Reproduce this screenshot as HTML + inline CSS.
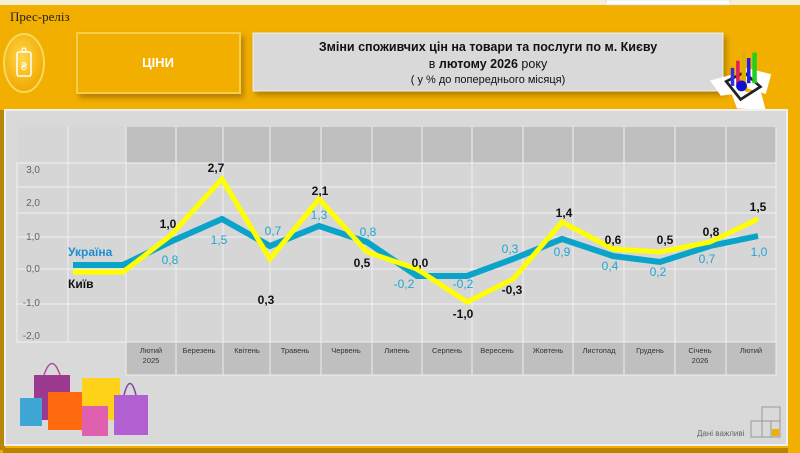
<!DOCTYPE html>
<html><head><meta charset="utf-8"><style>
html,body{margin:0;padding:0;width:800px;height:453px;overflow:hidden;background:#f2af00}
svg{display:block}
text{font-family:"Liberation Sans","DejaVu Sans",sans-serif}
</style></head><body>
<svg width="800" height="453" viewBox="0 0 800 453" xmlns="http://www.w3.org/2000/svg">
<defs>
<radialGradient id="cg" cx="45%" cy="40%" r="60%"><stop offset="0" stop-color="#ffd84a"/><stop offset="1" stop-color="#f0a800"/></radialGradient>
<filter id="sh" x="-10%" y="-10%" width="130%" height="140%"><feDropShadow dx="3" dy="4" stdDeviation="3" flood-color="#8a6000" flood-opacity="0.6"/></filter>
</defs>
<rect x="0" y="0" width="800" height="453" fill="#f2af00"/>
<rect x="0" y="0" width="800" height="5" fill="#f6efd8"/>
<rect x="606" y="0" width="124" height="5" fill="#fff" stroke="#ccc" stroke-width="0.5"/>
<text x="10" y="21" font-size="13" fill="#222" style="font-family:'Liberation Serif',serif">Прес-реліз</text>
<ellipse cx="24" cy="63" rx="20" ry="29" fill="url(#cg)" stroke="#f8d860" stroke-width="2"/>
<rect x="17" y="52" width="14" height="24" rx="2" fill="none" stroke="#fff" stroke-width="1.5"/>
<circle cx="24" cy="50" r="2" fill="none" stroke="#fff" stroke-width="1.2"/>
<text x="24" y="70" font-size="11" fill="#fff" text-anchor="middle">₴</text>
<rect x="77" y="33" width="163" height="60" fill="#f2af00" stroke="#f8cd50" stroke-width="2" filter="url(#sh)"/>
<text x="158" y="67" font-size="13" font-weight="bold" fill="#fff" text-anchor="middle">ЦІНИ</text>
<rect x="253" y="33" width="470" height="58" fill="#d9d9d9" stroke="#eee" stroke-width="1" filter="url(#sh)"/>
<text x="488" y="51" font-size="12.5" font-weight="bold" fill="#111" text-anchor="middle">Зміни споживчих цін на товари та послуги по м. Києву</text>
<text x="488" y="68" font-size="12.5" fill="#111" text-anchor="middle">в <tspan font-weight="bold">лютому 2026</tspan> року</text>
<text x="488" y="83" font-size="11" fill="#111" text-anchor="middle">( у  % до попереднього місяця)</text>
<g transform="translate(710,58) scale(0.9)">
<polygon points="0,25 26,18 40,38 12,42" fill="#fff"/>
<polygon points="36,10 68,18 62,40 42,34" fill="#fff"/>
<polygon points="24,40 56,36 62,58 30,56" fill="#fff"/>
<polygon points="18,26 38,16 56,32 34,46" fill="none" stroke="#222" stroke-width="3"/>
<rect x="23" y="11" width="4" height="20" fill="#3030e0"/><rect x="29" y="3" width="4" height="26" fill="#e02060"/>
<rect x="35" y="-6" width="5" height="34" fill="#e0b000"/><rect x="41" y="0" width="4" height="28" fill="#2020e0"/>
<rect x="47" y="-6" width="5" height="34" fill="#20d020"/>
<circle cx="35" cy="31" r="6" fill="#1010d0"/>
</g>
<rect x="3" y="448" width="785" height="5" fill="#b88400"/>
<rect x="0" y="110" width="5" height="340" fill="#b8860b"/>
<rect x="5" y="110" width="782" height="335" fill="#d9d9d9" stroke="#f0f0f0" stroke-width="2"/>
<rect x="126" y="127" width="650" height="36" fill="#bfbfbf"/>
<rect x="17" y="127" width="109" height="36" fill="#d6d6d6"/>
<rect x="17" y="163" width="759" height="179" fill="#d6d6d6" stroke="#f2f2f2" stroke-width="1"/>
<g stroke="#f0f0f0" stroke-width="1">
<line x1="17" y1="187" x2="776" y2="187"/><line x1="17" y1="213" x2="776" y2="213"/>
<line x1="17" y1="237" x2="776" y2="237"/><line x1="17" y1="269" x2="776" y2="269"/>
<line x1="17" y1="304" x2="776" y2="304"/>
<line x1="68" y1="127" x2="68" y2="342"/>
<line x1="126" y1="127" x2="126" y2="375"/><line x1="176" y1="127" x2="176" y2="375"/>
<line x1="223" y1="127" x2="223" y2="375"/><line x1="270" y1="127" x2="270" y2="375"/>
<line x1="321" y1="127" x2="321" y2="375"/><line x1="372" y1="127" x2="372" y2="375"/>
<line x1="422" y1="127" x2="422" y2="375"/><line x1="472" y1="127" x2="472" y2="375"/>
<line x1="523" y1="127" x2="523" y2="375"/><line x1="573" y1="127" x2="573" y2="375"/>
<line x1="624" y1="127" x2="624" y2="375"/><line x1="675" y1="127" x2="675" y2="375"/>
<line x1="726" y1="127" x2="726" y2="375"/><line x1="776" y1="127" x2="776" y2="375"/>
</g>
<rect x="126" y="342" width="650" height="33" fill="#bfbfbf" stroke="#eee" stroke-width="1"/>
<g stroke="#eee" stroke-width="1">
<line x1="176" y1="342" x2="176" y2="375"/><line x1="223" y1="342" x2="223" y2="375"/><line x1="270" y1="342" x2="270" y2="375"/><line x1="321" y1="342" x2="321" y2="375"/><line x1="372" y1="342" x2="372" y2="375"/><line x1="422" y1="342" x2="422" y2="375"/><line x1="472" y1="342" x2="472" y2="375"/><line x1="523" y1="342" x2="523" y2="375"/><line x1="573" y1="342" x2="573" y2="375"/><line x1="624" y1="342" x2="624" y2="375"/><line x1="675" y1="342" x2="675" y2="375"/><line x1="726" y1="342" x2="726" y2="375"/>
</g>
<g font-size="7.5" fill="#333" text-anchor="middle">
<text x="151" y="353">Лютий</text><text x="151" y="363">2025</text>
<text x="199" y="353">Березень</text><text x="247" y="353">Квітень</text><text x="295" y="353">Травень</text>
<text x="346" y="353">Червень</text><text x="397" y="353">Липень</text><text x="447" y="353">Серпень</text>
<text x="497" y="353">Вересень</text><text x="548" y="353">Жовтень</text><text x="599" y="353">Листопад</text>
<text x="650" y="353">Грудень</text><text x="700" y="353">Січень</text><text x="700" y="363">2026</text>
<text x="751" y="353">Лютий</text>
</g>
<g font-size="10" fill="#666" text-anchor="end">
<text x="40" y="173">3,0</text><text x="40" y="206">2,0</text><text x="40" y="240">1,0</text>
<text x="40" y="272">0,0</text><text x="40" y="306">-1,0</text><text x="40" y="339">-2,0</text>
</g>
<polyline fill="none" stroke="#0aa3c9" stroke-width="6" points="73,265 123,265 170,242 222,219 270,246 319,226 367,242 417,276 467,276 513,259 562,239 613,256 660,262 710,246 758,236"/>
<polyline fill="none" stroke="#ffff00" stroke-width="5" points="73,272 123,272 170,236 222,179 270,259 319,199 367,252 417,269 467,302 513,279 562,222 613,249 660,252 710,242 758,219"/>
<text x="68" y="256" font-size="12" font-weight="bold" fill="#1a8fd0">Україна</text>
<text x="68" y="288" font-size="12" font-weight="bold" fill="#111">Київ</text>
<g font-size="12" font-weight="bold" fill="#111" text-anchor="middle">
<text x="168" y="228">1,0</text><text x="216" y="172">2,7</text><text x="266" y="304">0,3</text>
<text x="320" y="195">2,1</text><text x="362" y="267">0,5</text><text x="420" y="267">0,0</text>
<text x="463" y="318">-1,0</text><text x="512" y="294">-0,3</text><text x="564" y="217">1,4</text>
<text x="613" y="244">0,6</text><text x="665" y="244">0,5</text><text x="711" y="236">0,8</text>
<text x="758" y="211">1,5</text>
</g>
<g font-size="12" fill="#1ea6d2" text-anchor="middle">
<text x="170" y="264">0,8</text><text x="219" y="244">1,5</text><text x="273" y="235">0,7</text>
<text x="319" y="219">1,3</text><text x="368" y="236">0,8</text><text x="404" y="288">-0,2</text>
<text x="463" y="288">-0,2</text><text x="510" y="253">0,3</text><text x="562" y="256">0,9</text>
<text x="610" y="270">0,4</text><text x="658" y="276">0,2</text><text x="707" y="263">0,7</text>
<text x="759" y="256">1,0</text>
</g>
<g>
<rect x="34" y="375" width="36" height="45" fill="#9b3a8e"/>
<path d="M44,375 Q52,352 60,375" fill="none" stroke="#b04aa0" stroke-width="1.5"/>
<rect x="82" y="378" width="38" height="42" fill="#ffd21a"/>
<rect x="20" y="398" width="22" height="28" fill="#3fa6d6"/>
<rect x="48" y="392" width="34" height="38" fill="#ff6a10"/>
<rect x="82" y="406" width="26" height="30" fill="#e060b0"/>
<rect x="114" y="395" width="34" height="40" fill="#b060d0"/>
<path d="M124,395 Q130,372 136,395" fill="none" stroke="#8040a0" stroke-width="1.5"/>
</g>
<text x="697" y="436" font-size="8" fill="#666">Дані важливі</text>
<g fill="none" stroke="#999" stroke-width="1">
<rect x="762" y="407" width="18" height="30"/><rect x="751" y="421" width="29" height="16"/>
<line x1="762" y1="421" x2="780" y2="421"/><line x1="771" y1="421" x2="771" y2="437"/>
</g>
<rect x="772" y="429" width="7" height="7" fill="#f2af00"/>
</svg>
</body></html>
